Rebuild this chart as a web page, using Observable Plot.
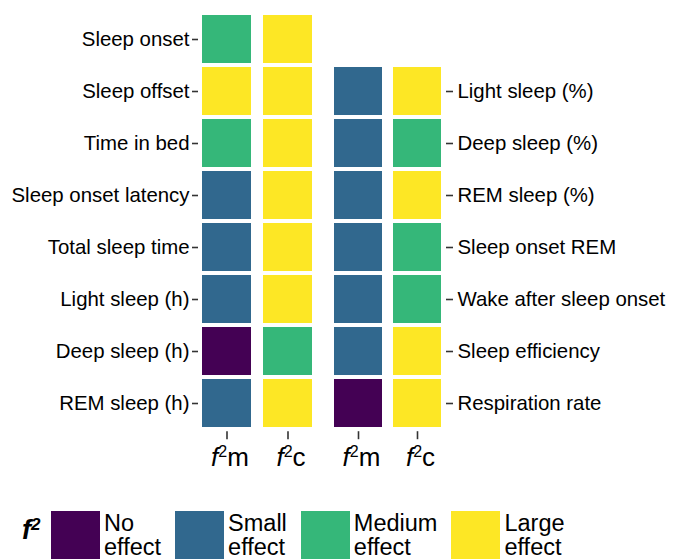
<!DOCTYPE html>
<html>
<head>
<meta charset="utf-8">
<script src="https://cdn.jsdelivr.net/npm/d3@7"></script>
<script src="https://cdn.jsdelivr.net/npm/@observablehq/plot@0.6"></script>
<style>
  body { margin: 0; background: #fff; font-family: "Liberation Sans", Arial, sans-serif; }
  #chart { position: relative; width: 673px; height: 559px; overflow: hidden; background: #fff; }
  #left { position: absolute; left: 0; top: 0; }
  #right { position: absolute; left: 322px; top: 0; }
  #legend { position: absolute; left: 22px; top: 511px; display: flex; align-items: flex-start; }
  #legend .title { font-size: 27px; font-weight: bold; font-style: italic; margin-top: 6px; width: 29px; line-height: 27px; }
  #legend .title sup { font-size: 17px; position: relative; top: -1px; vertical-align: top; line-height: 17px; }
  #legend .item { display: flex; align-items: flex-start; margin-right: 14px; }
  #legend .swatch { width: 49px; height: 52px; }
  #legend .label { font-size: 23.5px; line-height: 24px; margin-left: 4px; color: #000; }
</style>
</head>
<body>
<div id="chart">
  <div id="left"></div>
  <div id="right"></div>
  <div id="legend"></div>
</div>
<script>
// Effect-size categories and their colours (viridis, 4 levels)
const effectLevels = ["No effect", "Small effect", "Medium effect", "Large effect"];
const effectColors = ["#440154", "#31688e", "#35b779", "#fde725"];

// Columns: f² for model (m) and for condition (c)
const columns = ["m", "c"];

// Left panel measures and their effect categories
const leftMeasures = ["Sleep onset", "Sleep offset", "Time in bed", "Sleep onset latency",
  "Total sleep time", "Light sleep (h)", "Deep sleep (h)", "REM sleep (h)"];
const leftM = ["Medium effect", "Large effect", "Medium effect", "Small effect",
  "Small effect", "Small effect", "No effect", "Small effect"];
const leftC = ["Large effect", "Large effect", "Large effect", "Large effect",
  "Large effect", "Large effect", "Medium effect", "Large effect"];

// Right panel measures and their effect categories
const rightMeasures = ["Light sleep (%)", "Deep sleep (%)", "REM sleep (%)", "Sleep onset REM",
  "Wake after sleep onset", "Sleep efficiency", "Respiration rate"];
const rightM = ["Small effect", "Small effect", "Small effect", "Small effect",
  "Small effect", "Small effect", "No effect"];
const rightC = ["Large effect", "Medium effect", "Large effect", "Medium effect",
  "Medium effect", "Large effect", "Large effect"];

function toLong(measures, m, c) {
  return measures.flatMap((measure, i) => [
    {measure, col: "m", effect: m[i]},
    {measure, col: "c", effect: c[i]}
  ]);
}
const leftData = toLong(leftMeasures, leftM, leftC);
const rightData = toLong(rightMeasures, rightM, rightC);

const H = 490;
const step = 52.67;
const frameTop = 10.5;
const frameBottom = 431.2;

const common = {
  height: H,
  marginBottom: H - frameBottom,
  style: {fontFamily: "'Liberation Sans', Arial, sans-serif", color: "#000", background: "transparent", overflow: "visible"},
  color: {domain: effectLevels, range: effectColors}
};

function xAxis() {
  return Plot.axisX({anchor: "bottom", tickSize: 8, tickPadding: 8, fontSize: 26, label: null,
    stroke: "#333", strokeWidth: 1.6, fill: "#000"});
}

const left = Plot.plot({
  ...common,
  width: 322,
  marginLeft: 198,
  marginRight: 6,
  marginTop: frameTop,
  x: {domain: columns, paddingInner: 12 / 61, paddingOuter: 4 / 61, axis: null},
  y: {domain: leftMeasures, paddingInner: 0.07, paddingOuter: 0.03, axis: null},
  marks: [
    Plot.cell(leftData, {x: "col", y: "measure", fill: "effect", inset: 0}),
    Plot.axisY({anchor: "left", tickSize: 6, tickPadding: 3, fontSize: 20.4, label: null,
      stroke: "#333", strokeWidth: 1.6, fill: "#000"}),
    xAxis()
  ]
});

const right = Plot.plot({
  ...common,
  width: 351,
  marginLeft: 8,
  marginRight: 228,
  marginTop: frameTop + step,
  x: {domain: columns, paddingInner: 11 / 60.5, paddingOuter: 3 / 60.5, axis: null},
  y: {domain: rightMeasures, paddingInner: 0.07, paddingOuter: 0.03, axis: null},
  marks: [
    Plot.cell(rightData, {x: "col", y: "measure", fill: "effect", inset: 0}),
    Plot.axisY({anchor: "right", tickSize: 7, tickPadding: 5, fontSize: 20.4, label: null,
      stroke: "#333", strokeWidth: 1.6, fill: "#000"}),
    xAxis()
  ]
});

// Column labels: italic f, superscript 2, then the column letter
function styleColumnLabels(svg) {
  const ns = "http://www.w3.org/2000/svg";
  svg.querySelectorAll('[aria-label="x-axis tick label"] text').forEach(t => {
    const letter = t.textContent;
    t.textContent = "";
    t.setAttribute("dx", "3");
    const f = document.createElementNS(ns, "tspan");
    f.setAttribute("font-style", "italic");
    f.textContent = "f";
    const two = document.createElementNS(ns, "tspan");
    two.setAttribute("font-size", "16");
    two.setAttribute("dy", "-9");
    two.textContent = "2";
    const rest = document.createElementNS(ns, "tspan");
    rest.setAttribute("dy", "9");
    rest.textContent = letter;
    t.append(f, two, rest);
  });
}
styleColumnLabels(left);
styleColumnLabels(right);

document.getElementById("left").append(left);
document.getElementById("right").append(right);

// Legend built from the plot's colour scale
const scale = left.scale("color");
const legend = document.getElementById("legend");
const title = document.createElement("div");
title.className = "title";
title.innerHTML = "f<sup>2</sup>";
legend.append(title);
scale.domain.forEach((level, i) => {
  const item = document.createElement("div");
  item.className = "item";
  const sw = document.createElement("div");
  sw.className = "swatch";
  sw.style.background = scale.range[i];
  const lab = document.createElement("div");
  lab.className = "label";
  lab.innerHTML = level.split(" ").join("<br>");
  item.append(sw, lab);
  legend.append(item);
});
</script>
</body>
</html>
